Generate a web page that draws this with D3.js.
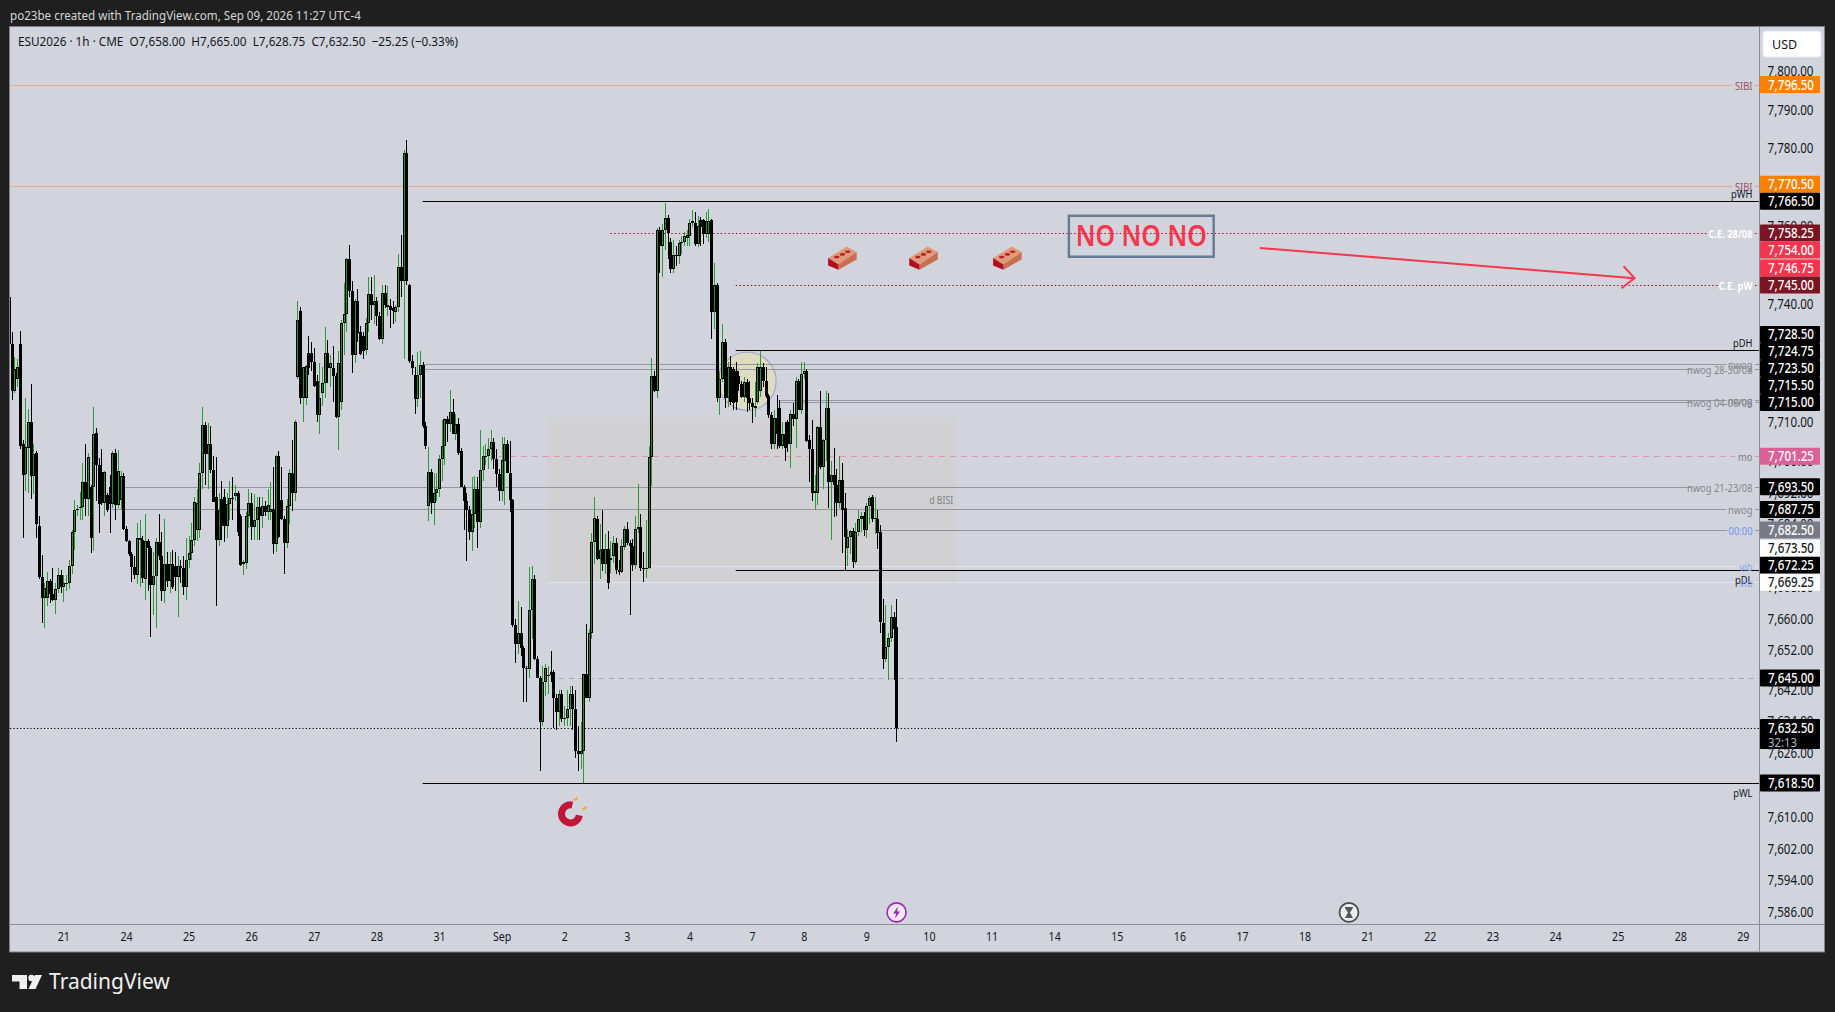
<!DOCTYPE html>
<html>
<head>
<meta charset="utf-8">
<script src="https://cdn.jsdelivr.net/npm/d3@7"></script>
<style>
  html, body { margin: 0; padding: 0; background: #1f1f1f; overflow: hidden; }
  text { font-family: "Noto Sans", "Open Sans", sans-serif; }
</style>
</head>
<body>
<svg id="chart" width="1835" height="1012"></svg>
<script>
// candles per session, every row is [open, high, low, close]
const aug20 = [
  [7742,7743,7729,7730],[7730,7733,7715.5,7718],[7718,7726.5,7717.5,7723.5],[7721,7726,7719,7724],
  [7730,7733.25,7703,7704],[7704.5,7705.5,7680.5,7696.5],[7696.75,7716,7692.5,7703.75],[7703.5,7713.25,7692,7710],
  [7710,7719.75,7690.5,7696.25],[7696.25,7704.5,7691.75,7701.75],[7702,7702.5,7680.5,7684],[7683.5,7686,7670,7670.5],
  [7670.5,7676.25,7659,7665.25],[7665.25,7669,7657.75,7667.75],[7665.25,7671.75,7663.25,7669.5],[7669.5,7670,7664,7666.25],
  [7666.25,7673,7664.5,7664.75],[7664.75,7669,7661.25,7667.5],[7667.5,7673,7666.5,7671],[7671,7672.25,7666.5,7668]
];
const aug21 = [
  [7668,7671,7664.25,7669],[7668.75,7671,7667,7669],[7669,7675,7667.5,7673.5],[7673.5,7682.5,7671.25,7682],
  [7682,7690.25,7677.5,7687.5],[7687.5,7689,7686,7687.75],[7688,7692.25,7685,7688.25],[7688.25,7699.5,7685,7694.75],
  [7694.75,7704.5,7686,7690.5],[7690.5,7702,7686,7701],[7693.5,7694,7676.75,7680.5],[7693.5,7713.75,7677.25,7707],
  [7707.25,7708.5,7690,7699],[7699,7700.75,7681.75,7689.25],[7697.25,7703,7689,7689.5],[7689.5,7697.5,7686,7697.25],
  [7691.5,7692,7687,7687.5],[7693.5,7696.5,7681.75,7689.25],[7689.25,7702.5,7688,7702],[7702,7703,7685,7689],
  [7689,7702.75,7688,7697.5],[7690.25,7697.5,7687.5,7696.25],[7696.25,7697,7682.5,7682.75]
];
const aug24 = [
  [7682.75,7683.5,7679.5,7679.75],[7679.75,7680,7676,7676.5],[7676.5,7677,7669.25,7673.25],[7673.25,7676,7670,7671],
  [7671,7684.25,7668.75,7680.5],[7680,7685,7668,7680.5],[7680,7681,7669,7670.25],[7670,7686.5,7664.75,7679.75],
  [7679.75,7680.25,7667,7678],[7678,7678.5,7655.5,7668.5],[7668.5,7677,7661,7670.75],[7670.75,7680.5,7657.75,7679.5],
  [7679.5,7686.5,7675,7676],[7676,7682,7664.5,7667],[7667,7685.25,7664,7674],[7674,7677,7668,7669.5],
  [7669.5,7677,7666.5,7674],[7674,7677.5,7667.5,7668],[7673.5,7677,7667,7670.5],[7670.5,7676,7660.5,7673.5],
  [7673.5,7675,7669,7673],[7673,7676,7666,7668],[7668,7680.5,7664.75,7675]
];
const aug25 = [
  [7675,7681,7673,7676.75],[7676.75,7684.25,7675,7680],[7680,7691,7678.5,7689.75],[7682.5,7693,7679.75,7689.5],
  [7682.5,7699.5,7680.5,7697],[7697,7713.75,7693,7709.25],[7709.25,7710,7694,7701.75],[7701.75,7709.75,7693,7704.5],
  [7704.5,7709,7697,7697.75],[7697.75,7701.25,7689.75,7689.75],[7691,7701,7663.25,7680],[7680,7692,7678.5,7687.5],
  [7690.5,7695,7680,7683.5],[7691,7693,7679.5,7683.5],[7683.5,7692,7680.5,7689.25],[7689.25,7695,7685,7690.75],
  [7690.75,7696,7685,7690.5],[7691.25,7694,7690,7692],[7692,7692.5,7681,7682],[7686,7686.5,7673.5,7673.75],
  [7674,7675,7671,7674.5],[7674.25,7687,7672.5,7686],[7686,7693,7683,7689.5]
];
const aug26 = [
  [7689.5,7692,7680,7683.25],[7683.25,7691.75,7680,7685],[7685,7691,7680,7688.25],[7688.25,7691,7680,7686],
  [7686,7691,7683,7688.5],[7688.5,7690,7686,7687],[7687,7693,7685,7689],[7687,7694.75,7685,7687.75],
  [7687.75,7698.5,7676.5,7679],[7679,7701.5,7677,7701.25],[7701.25,7702.5,7680.5,7680.75],[7690.25,7698.5,7685,7685.25],
  [7685.25,7686,7671.25,7679.25],[7679.25,7690.5,7678,7688.5],[7688.5,7698,7684,7697],[7697,7705.5,7687.25,7692],
  [7692,7710.5,7690,7710],[7721.5,7741,7721,7736],[7738.25,7739.5,7714.5,7716],[7716,7724,7710,7724],
  [7716,7724.5,7714.25,7724.25],[7727.5,7732,7722,7723.75],[7727.5,7730.5,7723,7725.25]
];
const aug27 = [
  [7725.25,7729,7719,7719.25],[7720.5,7722,7710,7711.75],[7711.75,7725,7707,7716],[7717.5,7724,7714,7720],
  [7720,7734.25,7716,7727.5],[7727.5,7731,7720,7723.75],[7723.75,7727,7719,7725],[7723.75,7729.5,7715,7721.75],
  [7721.75,7722.5,7711,7711.25],[7711.25,7728,7702.75,7725],[7715,7736,7713,7735.25],[7735.25,7745.5,7727,7737.5],
  [7737.5,7752,7733,7751.75],[7751.75,7755.25,7742,7743.5],[7743.5,7746,7722.5,7727],[7727,7741.5,7725,7741],
  [7741,7744,7730.5,7732.75],[7733,7734.5,7727,7727.25],[7732,7733,7726,7728.25],[7728.5,7736.5,7727,7735.25],
  [7735.25,7747,7733,7742.75],[7742.75,7747,7736,7740],[7740,7747.5,7735,7741]
];
const aug28 = [
  [7741,7742,7734.5,7737],[7737,7738,7731,7731.25],[7731.25,7745,7730,7743],[7743,7745,7739,7740],
  [7739.5,7744.75,7737,7740],[7739.75,7741.5,7734,7738.5],[7739,7741,7735,7738.25],[7738,7740,7735.5,7739.5],
  [7739.5,7753,7738,7749.5],[7749.5,7757.75,7742,7746],[7746,7779.75,7726,7779],[7779,7782.25,7745,7746],
  [7745,7745.25,7725,7725.5],[7725.5,7727,7722,7723.75],[7722,7724,7712,7715.75],[7715.75,7727.75,7713.75,7722],
  [7722,7728,7716,7724.5],[7724.5,7725.25,7708.5,7709],[7709,7710,7703,7704],[7688.5,7703.75,7684.75,7697.25],
  [7697.25,7698,7686.5,7689.5],[7689.5,7697,7683.75,7692],[7692,7697,7690,7693]
];
const aug31 = [
  [7693,7701.5,7691,7700.5],[7700.5,7710.5,7695,7704],[7704,7711,7699,7710.75],[7710.75,7711.5,7705,7709.5],
  [7709.5,7718.25,7707.5,7712.5],[7712.5,7715.75,7707,7707],[7707,7712,7705.5,7709.5],[7709.5,7711,7701.5,7702],
  [7702.5,7703.5,7693.5,7693.5],[7693.5,7694,7682.5,7690],[7690,7692,7674.75,7687.5],[7687.5,7688.5,7680,7682],
  [7682,7696,7677.25,7686.5],[7686.5,7696.25,7683,7693],[7693,7696,7678,7684.5],[7684.5,7708,7683,7697.75],
  [7697.75,7704,7695,7701.25],[7701,7704.5,7699,7701.25],[7701.25,7706,7698,7703.25],[7703.25,7708,7700,7705],
  [7705,7706,7698,7700.5],[7700.5,7703,7693.5,7696.75],[7696.75,7698,7690,7692.5]
];
const sep1 = [
  [7692.5,7706.25,7690,7700.25],[7700,7706.25,7689,7704.5],[7704.5,7705.5,7697,7697],[7697,7705.25,7687,7690.25],
  [7690.25,7690.5,7658,7658.5],[7658.5,7660,7648.75,7653.5],[7653.5,7664.5,7651,7656.5],[7656.5,7663,7650.5,7652.5],
  [7652.5,7653,7639,7647.5],[7647.5,7648,7639,7647.25],[7647.25,7673.25,7645,7662.25],[7662.25,7673.5,7655,7670],
  [7670,7671,7649.5,7649.75],[7649.75,7650.5,7645,7645],[7645,7645.5,7621.5,7634],[7634,7648,7633,7644],
  [7644,7648.5,7640.5,7647.5],[7645.5,7648,7641,7645.75],[7646.5,7651.75,7644,7645.75],[7646.5,7647,7632.5,7640],
  [7640,7641,7632,7636.5],[7636.5,7642,7633,7641],[7641,7642,7634,7634.75]
];
const sep2 = [
  [7634.75,7638,7633,7635],[7635,7642,7633,7637.25],[7637.25,7643,7633,7641],[7641,7643,7632,7637.25],
  [7637.25,7642,7624.75,7626.5],[7626.5,7633,7621.5,7625.75],[7625.75,7634,7622,7626.5],[7626.5,7646,7618.5,7646],
  [7646,7658.75,7640,7640],[7640,7657.5,7639,7656.5],[7656.5,7681.75,7655,7679.5],[7679.5,7691,7674,7685.5],
  [7685.25,7686,7675,7675.25],[7675.25,7684,7670,7677.5],[7677.75,7687.5,7672,7674],[7674,7681.5,7671.25,7677.75],
  [7677.75,7682.25,7667.5,7669],[7675,7679.75,7671.5,7675.5],[7676,7681,7674.25,7679.25],[7679.25,7680.5,7671.25,7672.25],
  [7672.25,7675,7671,7671.75],[7671.75,7680.25,7671.5,7678.5],[7678.25,7683.5,7677.5,7682.75]
];
const sep3 = [
  [7682.75,7684.5,7678.75,7679.25],[7679.25,7680,7661,7678.5],[7678.5,7680.25,7672,7673.75],[7673.75,7686,7672.5,7682.75],
  [7682.75,7694.25,7681.75,7683.25],[7683.25,7686.5,7672,7673],[7673,7677,7669.25,7672.75],[7672.75,7685,7670.25,7673],
  [7673,7704,7672.5,7701],[7701,7726.25,7693.75,7721.75],[7721.75,7723,7717.75,7718],[7718,7759.5,7716,7759],
  [7759,7760,7748,7755],[7755,7760.75,7747,7759],[7759,7766,7754,7762.25],[7762.25,7763,7751.75,7758.25],
  [7756,7757,7748,7749],[7749,7756.5,7748,7752.75],[7752.75,7755,7750,7752.5],[7752.5,7756.5,7750.5,7755.75],
  [7755.75,7757.5,7753,7756],[7756,7758.5,7755,7757.5],[7757,7759,7755,7757.75]
];
const sep4 = [
  [7757.5,7762,7755,7761],[7761,7764.25,7760,7761.5],[7761,7763.75,7755,7755.5],[7755.5,7762.75,7754.75,7760.25],
  [7761.75,7762.5,7755,7759.75],[7761.75,7762,7755.5,7758],[7758,7763.75,7757,7761.5],[7758,7764.5,7756,7761.5],
  [7761.75,7762,7731.25,7738],[7738,7750.75,7733.75,7745],[7745,7745.5,7715,7716],[7716,7722.75,7711.75,7721],
  [7721,7735,7720.25,7730.5],[7730.5,7731.25,7713.5,7716],[7716,7725.25,7713.75,7724],[7724,7726.75,7714.25,7715],
  [7723.5,7724,7713,7714.75],[7723,7725.25,7713,7715],[7721.75,7723,7718,7719.75],[7719.75,7720.5,7716,7716.5],
  [7716.5,7721.5,7715,7720.25],[7720.25,7721,7712.5,7716],[7716,7720.5,7713,7714.75]
];
const sep7 = [
  [7714.75,7716,7709.75,7713.75],[7713.5,7720.25,7711.25,7714],[7715,7725,7714.5,7724],[7718,7728.25,7716.5,7724],
  [7724,7725,7719,7720.5],[7720.5,7724,7716,7716.75],[7716.75,7717.25,7711,7711.75],[7711.75,7712.5,7703,7704.5],
  [7704.5,7713,7703.25,7711],[7711,7717,7703,7707],[7713.5,7715.5,7703.5,7704],[7704,7710,7703,7707],
  [7707,7710,7700,7703.5],[7710,7710.5,7702.25,7704.5],[7704.5,7713,7698.25,7712],[7712,7714.75,7709,7710.75],
  [7710.75,7721.5,7703.5,7720.5],[7720.5,7721,7713,7713],[7713,7725.25,7712,7722.25]
];
const sep8 = [
  [7722.25,7725.25,7721,7723],[7723,7723.5,7705,7705.25],[7705.5,7706.75,7694.75,7703],[7703,7710.5,7690,7692],
  [7692,7696.5,7687.5,7692.5],[7692,7709,7688.75,7708.75],[7708.75,7718,7698,7698.5],[7698.5,7705.75,7693,7705.5],
  [7705.5,7718,7700,7713.5],[7713.5,7717.5,7688,7694.75],[7694.75,7700,7680,7696.5],[7696.5,7703.5,7685.75,7694],
  [7694,7698,7686,7689.5],[7689.5,7701.25,7688,7695.25],[7695.25,7699.5,7676.75,7687.5],[7688,7692,7672.25,7680.75],
  [7678,7682.75,7673.5,7680.75],[7680.75,7682.5,7676.5,7682.25],[7682.25,7683,7672.75,7674.5],[7674.5,7684.25,7674,7682],
  [7682,7687.5,7681,7685.25],[7685.25,7687,7682,7686],[7686,7687,7681,7682.5]
];
const sep9 = [
  [7682.5,7689.5,7680.5,7688.5],[7688.5,7691.25,7684,7690.75],[7691,7691.5,7684.5,7685.25],[7685.25,7691,7681.5,7685.5],
  [7685.25,7687.5,7677.75,7681.75],[7682,7683.75,7656.5,7659.25],[7659,7665,7647.25,7649.75],[7649.75,7663.5,7649,7652.75],
  [7652.75,7656.5,7644.5,7655.25],[7655.25,7663.5,7654,7660.5],[7660.5,7661.75,7644.5,7657.5],[7658,7665,7628.75,7632.5]
];
const candles = [].concat(aug20, aug21, aug24, aug25, aug26, aug27, aug28, aug31, sep1, sep2, sep3, sep4, sep7, sep8, sep9);

const timeTicks  = [20,43,66,89,112,135,158,181,204,227,250,273,292,315,338,361,384,407,430,453,476,499,522,545,568,591,614,637];
const timeLabels = ["21","24","25","26","27","28","31","Sep","2","3","4","7","8","9","10","11","14","15","16","17","18","21","22","23","24","25","28","29"];
const priceTicks = [7800,7790,7780,7770,7760,7750,7740,7730,7720,7710,7700,7692,7684,7676,7668,7660,7652,7642,7634,7626,7610,7602,7594,7586];

// horizontal levels: price, first bar, label, kind
const levels = [
  [7796.5, 0, "SIBI", "sibi"],
  [7770.5, 0, "SIBI", "sibi"],
  [7766.5, 152, "pWH", "above"],
  [7758.25, 221, "C.E. 28/08", "ce"],
  [7745, 267, "C.E. pW", "cew"],
  [7728.5, 267, "pDH", "above"],
  [7724.75, 152, "nwog", "nwog"],
  [7723.5, 152, "nwog 28-30/08", "nwog"],
  [7715.5, 283, "nwog", "nwog"],
  [7715, 283, "nwog 04-06/08", "nwog"],
  [7701.25, 180, "mo", "mo"],
  [7693.5, 41.5, "nwog 21-23/08", "nwog"],
  [7687.75, 37, "nwog", "nwog"],
  [7682.5, 319, "00:00", "session"],
  [7673.5, 235.5, "vib", "vib"],
  [7672.25, 267, "pDL", "below"],
  [7669.25, 198, "vib", "vib"],
  [7645, 202, "", "dash"],
  [7632.5, 0, "", "last"],
  [7618.5, 152, "pWL", "below"]
];
const levelStyle = {
  sibi:    {stroke: "#e9ab7c", dash: null, text: "#a04f60"},
  above:   {stroke: "#000", dash: null, text: "#131722"},
  below:   {stroke: "#000", dash: null, text: "#131722"},
  ce:      {stroke: "#b8001f", dash: "1.4 2.4", text: "#fff", weight: 700},
  cew:     {stroke: "#8a0a22", dash: "1.4 2.4", text: "#fff", weight: 700},
  nwog:    {stroke: "#94979f", dash: null, text: "#83868f"},
  mo:      {stroke: "#e693b4", dash: "6 5", text: "#787b86"},
  session: {stroke: "#92959e", dash: null, text: "#6f93f2"},
  vib:     {stroke: "#e3e5ec", dash: null, text: "#8aa4ee"},
  dash:    {stroke: "#a5a7ae", dash: "5 5", text: "#000"},
  last:    {stroke: "#000", dash: "1.2 2.2", text: "#000"}
};

// labels on the price scale, from the top
const priceTags = [
  [7796.5, "sibi"],[7770.5, "sibi"],[7766.5, "black"],[7758.25, "ce"],[7754, "red"],[7746.75, "red"],[7745, "ce"],
  [7728.5, "black"],[7724.75, "black"],[7723.5, "black"],[7715.5, "black"],[7715, "black"],[7701.25, "mo"],
  [7693.5, "black"],[7687.75, "black"],[7682.5, "gray"],[7673.5, "white"],[7672.25, "black"],[7669.25, "white"],
  [7645, "black"],[7632.5, "black"],[7618.5, "black"]
];
const tagStyle = {
  sibi: {fill: "#ff7f00", text: "#fff"}, black: {fill: "#000", text: "#fff"}, ce: {fill: "#7c1422", text: "#fff"},
  red: {fill: "#f5344d", text: "#fff"}, mo: {fill: "#dd6098", text: "#fff"}, gray: {fill: "#787b86", text: "#fff"},
  white: {fill: "#fff", text: "#131722"}
};

const bisiBox = {from: 198, to: 348, top: 7711.25, bottom: 7669.25};
const circleSpot = {bar: 271.2, price: 7720.4};
const brickSpots = [[306.2, 7751.9], [336, 7751.9], [366.8, 7751.9]];
const noBox = {from: 389.4, to: 442.6, top: 7762.75, bottom: 7752.25};
const arrowFrom = [459.5, 7754.5];
const arrowTo = [597.2, 7746.75];
const magnetSpot = [206.3, 7610.75];
const boltSpot = [326.1, 7586];
const hourglassSpot = [492.3, 7586];

const svg = d3.select("#chart");
const plotL = 10, plotR = 1759, plotT = 27, plotB = 924, outerR = 1824, outerB = 951.5;

const x = d3.scaleLinear().domain([0, candles.length - 1]).range([8.93, 896.3]);
const y = d3.scaleLog().domain([7586, 7800]).range([912.4, 71]);
const num = d3.format(",.2f");

// squeeze a text to look like the narrower chart font
function narrow(sel, ratio) {
  sel.each(function() {
    const w = this.getComputedTextLength();
    d3.select(this).attr("textLength", w * ratio).attr("lengthAdjust", "spacingAndGlyphs");
  });
  return sel;
}

svg.append("rect").attr("width", 1835).attr("height", 1012).attr("fill", "#1f1f1f");
svg.append("rect").attr("x", plotL - .5).attr("y", plotT - .5).attr("width", outerR - plotL + 1).attr("height", outerB - plotT + 1)
  .attr("fill", "#d1d4dc").attr("stroke", "#7d8088");

svg.append("text").attr("x", 10).attr("y", 20).attr("fill", "#d6d6d6").attr("font-size", 13)
  .attr("textLength", 351).attr("lengthAdjust", "spacingAndGlyphs").text("po23be created with TradingView.com, Sep 09, 2026 11:27 UTC-4");
svg.append("text").attr("x", 18).attr("y", 46).attr("fill", "#131722").attr("font-size", 13).attr("xml:space", "preserve")
  .attr("textLength", 440).attr("lengthAdjust", "spacingAndGlyphs")
  .text("ESU2026 \u00b7 1h \u00b7 CME  O7,658.00  H7,665.00  L7,628.75  C7,632.50  \u221225.25 (\u22120.33%)");

svg.append("defs").append("clipPath").attr("id", "plot").append("rect")
  .attr("x", plotL).attr("y", plotT).attr("width", plotR - plotL).attr("height", plotB - plotT);
const plot = svg.append("g").attr("clip-path", "url(#plot)");

// d BISI box and the circle sit under the candles
plot.append("rect").attr("x", x(bisiBox.from)).attr("width", x(bisiBox.to) - x(bisiBox.from))
  .attr("y", y(bisiBox.top)).attr("height", y(bisiBox.bottom) - y(bisiBox.top)).attr("fill", "#d1d1d3");
plot.append("text").attr("x", x(bisiBox.to) - 3).attr("y", y(bisiBox.top) + 87).attr("text-anchor", "end")
  .attr("font-size", 11.5).attr("fill", "#7f8087").attr("textLength", 24).attr("lengthAdjust", "spacingAndGlyphs").text("d BISI");
plot.append("circle").attr("cx", x(circleSpot.bar)).attr("cy", y(circleSpot.price)).attr("r", 29)
  .attr("fill", "#dedcc0").attr("stroke", "#a8a5cb").attr("stroke-width", 1.2);

// levels with their labels on the right
levels.forEach(function(l) {
  const st = levelStyle[l[3]];
  const yy = Math.round(y(l[0])) + .5;
  let lineEnd = plotR;
  if (l[2]) {
    const tx = 1752.5;
    let ty = yy + 4;
    if (l[3] === "above") ty = yy - 4;
    if (l[3] === "below") ty = yy + 13;
    const t = svg.append("text").attr("x", tx).attr("y", ty).attr("text-anchor", "end")
      .attr("font-size", 11).attr("font-weight", st.weight || 400).attr("fill", st.text).text(l[2]);
    narrow(t, .85);
    if (l[3] !== "above" && l[3] !== "below") {
      lineEnd = tx - t.node().getComputedTextLength() * .85 - 5;
      plot.append("line").attr("x1", 1755).attr("x2", plotR).attr("y1", yy).attr("y2", yy)
        .attr("stroke", st.stroke).attr("stroke-dasharray", st.dash);
    }
  }
  plot.append("line").attr("x1", Math.max(plotL, x(l[1]))).attr("x2", lineEnd).attr("y1", yy).attr("y2", yy)
    .attr("stroke", st.stroke).attr("stroke-dasharray", st.dash);
});

// candles
const bars = plot.append("g").attr("shape-rendering", "crispEdges");
candles.forEach(function(c, i) {
  const up = c[3] >= c[0];
  const cx = Math.round(x(i));
  bars.append("rect").attr("x", cx).attr("width", 1).attr("y", y(c[1])).attr("height", Math.max(1, y(c[2]) - y(c[1])))
    .attr("fill", up ? "#2f9a35" : "#000");
  const top = Math.round(y(Math.max(c[0], c[3])));
  const bot = Math.round(y(Math.min(c[0], c[3])));
  bars.append("rect").attr("x", cx - 1).attr("width", 3).attr("y", top).attr("height", Math.max(1, bot - top)).attr("fill", "#000");
  if (up && bot - top > 2) {
    bars.append("rect").attr("x", cx).attr("width", 1).attr("y", top + 1).attr("height", bot - top - 2).attr("fill", "#2c8a32");
  }
});

// bricks
brickSpots.forEach(function(b) {
  const g = plot.append("g").attr("transform", "translate(" + x(b[0]) + "," + y(b[1]) + ")");
  g.append("polygon").attr("points", "-14.3,0 4.3,-11.7 14.3,-6 -4,6.3").attr("fill", "#e19a78");
  g.append("polygon").attr("points", "-4,6.3 14.3,-6 14.3,1.3 -4,11.7").attr("fill", "#c76f50");
  g.append("polygon").attr("points", "-14.3,0 -4,6.3 -4,11.7 -14.3,7.3").attr("fill", "#b20d22");
  [[-5.7, -1], [0, -3.7], [5.3, -6.3]].forEach(function(h) {
    g.append("ellipse").attr("cx", h[0]).attr("cy", h[1]).attr("rx", 2.8).attr("ry", 1.3).attr("fill", "#b5222b");
  });
});

// NO NO NO box
plot.append("rect").attr("x", x(noBox.from)).attr("y", y(noBox.top)).attr("width", x(noBox.to) - x(noBox.from))
  .attr("height", y(noBox.bottom) - y(noBox.top)).attr("fill", "none").attr("stroke", "#667c93").attr("stroke-width", 2.5);
plot.append("text").attr("x", (x(noBox.from) + x(noBox.to)) / 2).attr("y", (y(noBox.top) + y(noBox.bottom)) / 2 + 10)
  .attr("text-anchor", "middle").attr("font-size", 28).attr("font-weight", 600).attr("fill", "#f5364d").attr("textLength", 131)
  .attr("lengthAdjust", "spacingAndGlyphs").text("NO NO NO");

// arrow
const ax = x(arrowTo[0]), ay = y(arrowTo[1]);
plot.append("line").attr("x1", x(arrowFrom[0])).attr("y1", y(arrowFrom[1])).attr("x2", ax).attr("y2", ay)
  .attr("stroke", "#f5364d").attr("stroke-width", 2);
plot.append("polyline").attr("points", [[ax - 11, ay - 12], [ax, ay], [ax - 13, ay + 10]].join(" "))
  .attr("fill", "none").attr("stroke", "#f5364d").attr("stroke-width", 2);

// magnet
const mg = plot.append("g").attr("transform", "translate(" + x(magnetSpot[0]) + "," + y(magnetSpot[1]) + ")");
mg.append("path").attr("fill", "#c0163a")
  .attr("d", d3.arc().innerRadius(5.5).outerRadius(12.5).startAngle(100 * Math.PI / 180).endAngle(372 * Math.PI / 180)());
[[5, -15], [14, -6]].forEach(function(s) {
  mg.append("polygon").attr("fill", "#f2a93b")
    .attr("points", [[s[0] - 2.5, s[1] + 1], [s[0] + 2, s[1] - 2.5], [s[0] + 2.5, s[1]], [s[0] - 1.5, s[1] + 2.5]].join(" "));
});

// event icons on the bottom row
const bolt = plot.append("g").attr("transform", "translate(" + x(boltSpot[0]) + "," + y(boltSpot[1]) + ")");
bolt.append("circle").attr("r", 9.5).attr("fill", "#f1e9f5").attr("stroke", "#9c27b0").attr("stroke-width", 1.6);
bolt.append("polygon").attr("points", "1.5,-6 -3.5,1 -0.5,1 -1.5,6 3.5,-1 0.5,-1").attr("fill", "#9c27b0");
const glass = plot.append("g").attr("transform", "translate(" + x(hourglassSpot[0]) + "," + y(hourglassSpot[1]) + ")");
glass.append("circle").attr("r", 9.5).attr("fill", "#eceef2").attr("stroke", "#4a4a4e").attr("stroke-width", 1.8);
glass.append("polygon").attr("points", "-4,-5.5 4,-5.5 4,-4.5 1,0 4,5.5 -4,5.5 -1,0 -4,-4.5").attr("fill", "#55555a");

// axes
svg.append("line").attr("x1", plotR + .5).attr("x2", plotR + .5).attr("y1", plotT).attr("y2", outerB).attr("stroke", "#8a8d96");
svg.append("line").attr("x1", plotL).attr("x2", outerR).attr("y1", plotB + .5).attr("y2", plotB + .5).attr("stroke", "#8a8d96");

const priceAxis = svg.append("g").attr("transform", "translate(1760,0)")
  .call(d3.axisRight(y).tickValues(priceTicks).tickFormat(num).tickSize(0).tickPadding(7.5));
priceAxis.select(".domain").remove();
priceAxis.selectAll("text").attr("font-size", 13.5).attr("fill", "#131722").attr("font-family", "Noto Sans")
  .attr("textLength", 46).attr("lengthAdjust", "spacingAndGlyphs");

const timeAxis = svg.append("g").attr("transform", "translate(0," + plotB + ")")
  .call(d3.axisBottom(x).tickValues(timeTicks).tickFormat(function(d, i) { return timeLabels[i]; }).tickSize(0).tickPadding(8));
timeAxis.select(".domain").remove();
narrow(timeAxis.selectAll("text").attr("font-size", 13).attr("fill", "#131722").attr("font-family", "Noto Sans"), .82);

// USD button
svg.append("rect").attr("x", 1763).attr("y", 31).attr("width", 58).attr("height", 26).attr("rx", 3).attr("fill", "#fff").attr("stroke", "#e4e6ec");
svg.append("text").attr("x", 1772).attr("y", 49).attr("font-size", 12.5).attr("fill", "#131722").text("USD");

// price tags, stacked upward when they would collide
const tagH = 17;
let prevY = Infinity;
const tagYs = priceTags.map(function(t) { return y(t[0]); });
for (let i = priceTags.length - 1; i >= 0; i--) {
  tagYs[i] = Math.min(tagYs[i], prevY - tagH);
  prevY = tagYs[i];
}
priceTags.forEach(function(t, i) {
  const st = tagStyle[t[1]];
  const isLast = t[0] === 7632.5;
  const top = tagYs[i] - tagH / 2;
  svg.append("rect").attr("x", 1760).attr("y", top).attr("width", 60).attr("height", isLast ? 30 : tagH).attr("rx", 1).attr("fill", st.fill);
  svg.append("text").attr("x", 1768).attr("y", tagYs[i] + 5).attr("font-size", 13.5).attr("font-weight", 500).attr("fill", st.text)
    .attr("textLength", 46).attr("lengthAdjust", "spacingAndGlyphs").text(num(t[0]));
  if (isLast) {
    svg.append("text").attr("x", 1768).attr("y", tagYs[i] + 19).attr("font-size", 12.5).attr("fill", "#b2b5be")
      .attr("textLength", 29).attr("lengthAdjust", "spacingAndGlyphs").text("32:13");
  }
});

// logo in the footer
const logo = svg.append("g").attr("fill", "#f0f0f0");
logo.append("path").attr("d", "M12 975H27V989H19.5V981.5H12Z");
logo.append("circle").attr("cx", 31.5).attr("cy", 978).attr("r", 3.2);
logo.append("path").attr("d", "M35 975H42L35.5 989H28.5Z");
svg.append("text").attr("x", 49).attr("y", 989).attr("font-size", 21).attr("font-weight", 400).attr("fill", "#f0f0f0").attr("font-family", "Lato").text("TradingView");
</script>
</body>
</html>
